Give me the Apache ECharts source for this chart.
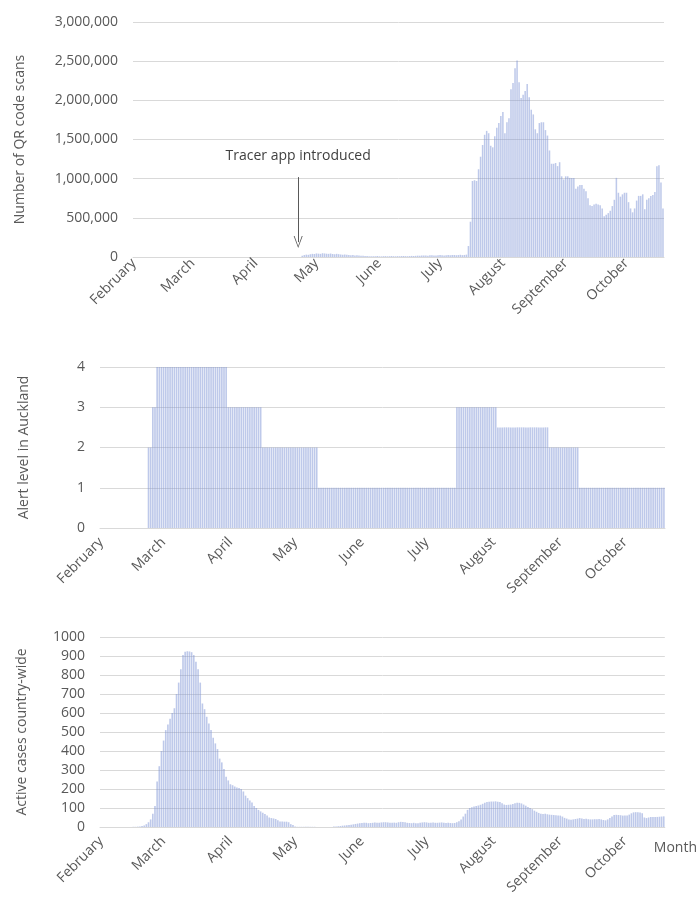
<!DOCTYPE html>
<html>
<head>
<meta charset="utf-8">
<script src="https://cdn.jsdelivr.net/npm/echarts@6/dist/echarts.min.js"></script>
<style>
  html, body { margin: 0; padding: 0; background: #fff; }
  #chart { width: 698px; height: 898px; }
</style>
</head>
<body>
<div id="chart"></div>
<script>
// --- Data ---
const START_DATE = '2020-02-01';
const DAY_COUNT = 262;
const monthNames = ['January', 'February', 'March', 'April', 'May', 'June', 'July',
  'August', 'September', 'October', 'November', 'December'];

// Daily QR code scans
const qrScans = [
  0, 0, 0, 0, 0, 0, 0, 0, 0, 0,
  0, 0, 0, 0, 0, 0, 0, 0, 0, 0,
  0, 0, 0, 0, 0, 0, 0, 0, 0, 0,
  0, 0, 0, 0, 0, 0, 0, 0, 0, 0,
  0, 0, 0, 0, 0, 0, 0, 0, 0, 0,
  0, 0, 0, 0, 0, 0, 0, 0, 0, 0,
  0, 0, 0, 0, 0, 0, 0, 0, 0, 0,
  0, 0, 0, 0, 0, 0, 0, 0, 0, 0,
  0, 0, 0, 15000, 25000, 30000, 28000, 35000, 40000, 38000,
  45000, 42000, 40000, 48000, 45000, 42000, 40000, 44000, 38000, 35000,
  40000, 36000, 32000, 30000, 33000, 28000, 25000, 22000, 24000, 20000,
  22000, 18000, 15000, 16000, 14000, 12000, 10000, 11000, 9000, 10000,
  12000, 9000, 8000, 10000, 11000, 9000, 10000, 12000, 10000, 9000,
  11000, 10000, 12000, 13000, 11000, 10000, 12000, 14000, 13000, 15000,
  17000, 16000, 18000, 20000, 19000, 17000, 21000, 22000, 20000, 18000,
  22000, 24000, 21000, 20000, 23000, 25000, 22000, 24000, 26000, 23000,
  25000, 28000, 24000, 26000, 30000, 140000, 450000, 970000, 980000, 970000,
  1120000, 1280000, 1430000, 1560000, 1610000, 1580000, 1420000, 1400000, 1540000, 1650000,
  1710000, 1800000, 1850000, 1580000, 1720000, 1770000, 2140000, 2220000, 2410000, 2510000,
  2230000, 2030000, 2070000, 2120000, 2210000, 2040000, 1880000, 1820000, 1630000, 1580000,
  1710000, 1720000, 1720000, 1620000, 1550000, 1360000, 1190000, 1190000, 1200000, 1160000,
  1210000, 1030000, 990000, 1030000, 1030000, 1010000, 1010000, 1010000, 870000, 900000,
  920000, 920000, 870000, 840000, 750000, 660000, 650000, 670000, 680000, 670000,
  660000, 620000, 520000, 540000, 560000, 590000, 650000, 730000, 1010000, 820000,
  770000, 800000, 820000, 820000, 700000, 620000, 570000, 620000, 720000, 780000,
  780000, 800000, 610000, 730000, 750000, 780000, 790000, 830000, 1160000, 1170000,
  950000, 620000
];

// Alert level in Auckland, per day
const alertLevel = [
  0, 0, 0, 0, 0, 0, 0, 0, 0, 0,
  0, 0, 0, 0, 0, 0, 0, 0, 0, 0,
  0, 0, 2, 2, 3, 3, 4, 4, 4, 4,
  4, 4, 4, 4, 4, 4, 4, 4, 4, 4,
  4, 4, 4, 4, 4, 4, 4, 4, 4, 4,
  4, 4, 4, 4, 4, 4, 4, 4, 4, 3,
  3, 3, 3, 3, 3, 3, 3, 3, 3, 3,
  3, 3, 3, 3, 3, 2, 2, 2, 2, 2,
  2, 2, 2, 2, 2, 2, 2, 2, 2, 2,
  2, 2, 2, 2, 2, 2, 2, 2, 2, 2,
  2, 1, 1, 1, 1, 1, 1, 1, 1, 1,
  1, 1, 1, 1, 1, 1, 1, 1, 1, 1,
  1, 1, 1, 1, 1, 1, 1, 1, 1, 1,
  1, 1, 1, 1, 1, 1, 1, 1, 1, 1,
  1, 1, 1, 1, 1, 1, 1, 1, 1, 1,
  1, 1, 1, 1, 1, 1, 1, 1, 1, 1,
  1, 1, 1, 1, 1, 3, 3, 3, 3, 3,
  3, 3, 3, 3, 3, 3, 3, 3, 3, 3,
  3, 3, 3, 3, 2.5, 2.5, 2.5, 2.5, 2.5, 2.5,
  2.5, 2.5, 2.5, 2.5, 2.5, 2.5, 2.5, 2.5, 2.5, 2.5,
  2.5, 2.5, 2.5, 2.5, 2.5, 2.5, 2.5, 2.5, 2, 2,
  2, 2, 2, 2, 2, 2, 2, 2, 2, 2,
  2, 2, 1, 1, 1, 1, 1, 1, 1, 1,
  1, 1, 1, 1, 1, 1, 1, 1, 1, 1,
  1, 1, 1, 1, 1, 1, 1, 1, 1, 1,
  1, 1, 1, 1, 1, 1, 1, 1, 1, 1,
  1, 1
];

// Active cases country-wide, per day
const activeCases = [
  0, 0, 0, 0, 0, 0, 0, 0, 0, 0,
  0, 0, 0, 0, 0, 1, 1, 2, 3, 5,
  8, 15, 25, 40, 70, 110, 240, 320, 400, 455,
  510, 540, 570, 600, 625, 700, 760, 830, 905, 922,
  925, 924, 920, 905, 870, 830, 760, 650, 620, 580,
  545, 510, 470, 440, 410, 360, 340, 305, 265, 245,
  225, 220, 213, 208, 205, 200, 187, 165, 152, 140,
  129, 110, 100, 90, 82, 75, 68, 60, 50, 47,
  45, 42, 35, 29, 29, 28, 28, 25, 15, 10,
  3, 1, 1, 1, 1, 1, 1, 1, 1, 1,
  0, 0, 0, 0, 0, 0, 0, 0, 2, 3,
  4, 5, 7, 8, 9, 10, 12, 14, 16, 18,
  20, 21, 22, 22, 20, 21, 22, 24, 23, 22,
  24, 25, 25, 24, 22, 22, 23, 22, 25, 27,
  26, 25, 22, 21, 20, 22, 20, 20, 22, 24,
  25, 24, 22, 23, 24, 22, 22, 23, 24, 22,
  21, 22, 21, 20, 21, 25, 30, 40, 55, 70,
  90, 100, 104, 108, 110, 113, 117, 122, 128, 131,
  133, 134, 134, 135, 133, 132, 125, 118, 116, 117,
  118, 121, 125, 127, 127, 124, 118, 112, 105, 100,
  94, 86, 80, 74, 70, 69, 70, 67, 65, 64,
  63, 62, 61, 60, 55, 48, 44, 40, 38, 40,
  42, 44, 47, 45, 42, 43, 41, 40, 40, 41,
  41, 42, 40, 37, 35, 40, 47, 55, 63, 64,
  63, 62, 60, 61, 60, 65, 72, 77, 78, 77,
  76, 72, 50, 47, 50, 52, 52, 52, 53, 54,
  55, 56
];

// Tracer app launch marker (day index) and annotation heights
const tracerDay = 81;
const tracerArrow = [1020000, 190000];

// --- Helpers ---
const days = [];
{
  const d0 = new Date(START_DATE + 'T00:00:00Z');
  for (let i = 0; i < DAY_COUNT; i++) {
    const d = new Date(d0.getTime() + i * 86400000);
    days.push(d.toISOString().slice(0, 10));
  }
}

const isMonthStart = (index, value) => value.slice(8, 10) === '01';
const monthLabel = (value) => monthNames[Number(value.slice(5, 7)) - 1];

const FONT = '"Open Sans", sans-serif';
const TEXT = '#595959';
const GRID_LINE = '#d9d9d9';
const BAR_COLOR = 'rgba(125, 148, 214, 0.5)';

function xAxis(gridIndex, labelMargin, extra) {
  return Object.assign({
    type: 'category',
    gridIndex,
    data: days,
    boundaryGap: true,
    axisLine: { lineStyle: { color: GRID_LINE } },
    axisTick: { interval: isMonthStart, length: 5, lineStyle: { color: GRID_LINE } },
    axisLabel: {
      interval: isMonthStart,
      formatter: monthLabel,
      rotate: 45,
      margin: labelMargin,
      color: TEXT,
      fontFamily: FONT,
      fontSize: 14,
    },
    splitLine: { show: false },
  }, extra || {});
}

function yAxis(gridIndex, name, nameGap, max, interval, formatter) {
  return {
    type: 'value',
    gridIndex,
    min: 0,
    max,
    interval,
    name,
    nameLocation: 'middle',
    nameGap,
    nameTextStyle: { color: TEXT, fontFamily: FONT, fontSize: 14 },
    axisLine: { show: false },
    axisTick: { show: false },
    axisLabel: { color: TEXT, fontFamily: FONT, fontSize: 14, margin: 15, formatter },
    splitLine: { lineStyle: { color: GRID_LINE } },
  };
}

function barSeries(index, data) {
  return {
    type: 'bar',
    xAxisIndex: index,
    yAxisIndex: index,
    data,
    barCategoryGap: '25%',
    itemStyle: { color: BAR_COLOR },
    silent: true,
  };
}

// --- Chart ---
const chart = echarts.init(document.getElementById('chart'), null, { renderer: 'canvas' });

const qrSeries = barSeries(0, qrScans);
qrSeries.markLine = {
  silent: true,
  symbol: ['none', 'path://M5,0 L10,9 L9,9 L5,1.6 L1,9 L0,9 Z'],
  symbolSize: [9, 12],
  lineStyle: { color: '#595959', width: 1, type: 'solid' },
  label: {
    show: true,
    position: 'start',
    distance: 14,
    formatter: 'Tracer app introduced',
    color: '#404040',
    fontFamily: FONT,
    fontSize: 14,
  },
  data: [[{ coord: [tracerDay, tracerArrow[0]] }, { coord: [tracerDay, tracerArrow[1]] }]],
};

chart.setOption({
  animation: false,
  grid: [
    { left: 133, top: 22, width: 531, height: 235 },
    { left: 100, top: 367, width: 565, height: 161 },
    { left: 100, top: 637, width: 565, height: 190 },
  ],
  xAxis: [
    xAxis(0, 4),
    xAxis(1, 12),
    xAxis(2, 12, {
      name: 'Month',
      nameLocation: 'end',
      nameGap: -11,
      nameTextStyle: {
        color: TEXT, fontFamily: FONT, fontSize: 14,
        align: 'left', verticalAlign: 'top', padding: [14, 0, 0, 0],
      },
    }),
  ],
  yAxis: [
    yAxis(0, 'Number of QR code scans', 106, 3000000, 500000,
      (v) => v.toLocaleString('en-US')),
    yAxis(1, 'Alert level in Auckland', 69, 4, 1, (v) => String(v)),
    yAxis(2, 'Active cases country-wide', 71, 1000, 100, (v) => String(v)),
  ],
  series: [
    qrSeries,
    barSeries(1, alertLevel),
    barSeries(2, activeCases),
  ],
});
</script>
</body>
</html>
